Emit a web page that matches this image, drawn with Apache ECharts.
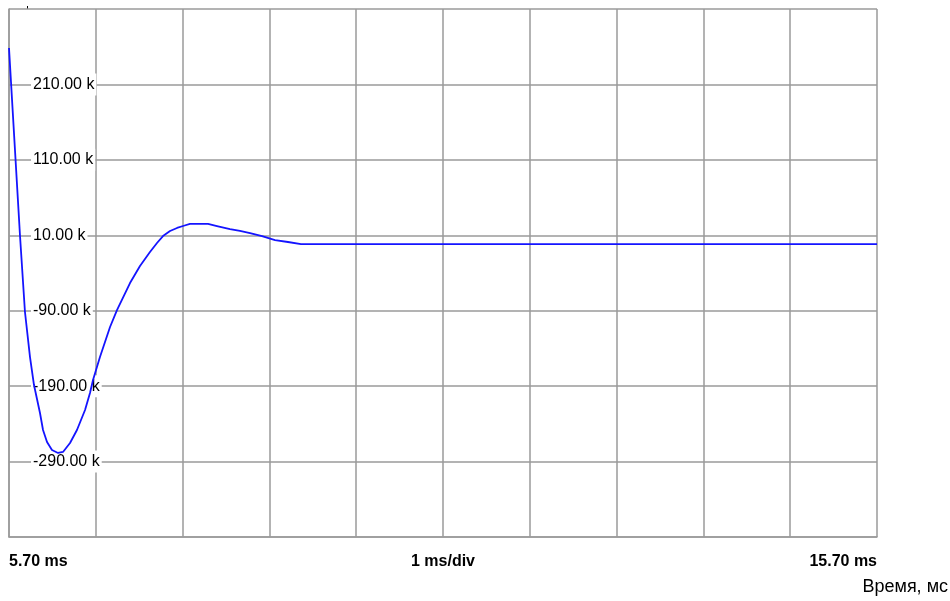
<!DOCTYPE html>
<html>
<head>
<meta charset="utf-8">
<script src="https://cdn.jsdelivr.net/npm/echarts@6/dist/echarts.min.js"></script>
<style>html,body{margin:0;padding:0;background:#fff;}#c{width:950px;height:601px;}</style>
</head>
<body>
<div id="c"></div>
<script>
// time, ms
const timeMs = [5.700, 5.827, 5.884, 5.942, 5.988, 6.057, 6.092, 6.138, 6.195, 6.265, 6.322, 6.403, 6.483, 6.576, 6.633, 6.668, 6.748, 6.864, 6.944, 7.094, 7.209, 7.324, 7.405, 7.474, 7.555, 7.636, 7.705, 7.785, 7.993, 8.096, 8.246, 8.361, 8.477, 8.615, 8.765, 8.914, 9.064, 15.700];
// signal, k
const valueK = [258.3, 9.0, -91.7, -151.4, -188.5, -225.6, -248.1, -264.1, -274.7, -278.6, -277.3, -265.4, -248.1, -221.6, -199.1, -181.9, -151.4, -111.6, -89.1, -53.3, -30.7, -12.2, -0.2, 9.0, 15.7, 19.7, 22.3, 25.0, 25.0, 22.3, 18.3, 15.7, 13.0, 9.0, 3.7, 1.1, -1.6, -1.6];

const xStart = 5.70;      // ms, left edge
const xEnd = 15.70;       // ms, right edge
const xDivLabel = '1 ms/div';
const xName = 'Время, мс';
const yBottom = -390;     // k, bottom edge
const yTop = 310;         // k, top edge
const yStep = 100;

const xSpan = xEnd - xStart;
const ySpan = yTop - yBottom;
const seriesData = timeMs.map((t, i) => [t - xStart, valueK[i] - yBottom]);

const chart = echarts.init(document.getElementById('c'), null, {renderer: 'canvas'});
const gridColor = '#9a9a9a';
const font = 'Arial, "Liberation Sans", sans-serif';
chart.setOption({
  animation: false,
  backgroundColor: '#fff',
  grid: {left: 9, top: 9, right: 73, bottom: 64, containLabel: false},
  xAxis: {
    type: 'value', min: 0, max: xSpan, interval: 1,
    axisLine: {show: true, lineStyle: {color: gridColor, width: 1.5}},
    axisTick: {show: false},
    splitLine: {show: true, lineStyle: {color: gridColor, width: 1.5}},
    axisLabel: {
      margin: 17,
      fontFamily: font, fontSize: 16, fontWeight: 'bold', color: '#000',
      alignMinLabel: 'left', alignMaxLabel: 'right',
      formatter: function (v) {
        if (Math.abs(v) < 1e-9) return xStart.toFixed(2) + ' ms';
        if (Math.abs(v - xSpan / 2) < 1e-9) return xDivLabel;
        if (Math.abs(v - xSpan) < 1e-9) return xEnd.toFixed(2) + ' ms';
        return '';
      }
    }
  },
  yAxis: {
    type: 'value', min: 0, max: ySpan, interval: yStep,
    axisLine: {show: true, lineStyle: {color: gridColor, width: 1.5}},
    axisTick: {show: false},
    splitLine: {show: true, lineStyle: {color: gridColor, width: 1.5}},
    axisLabel: {
      inside: true, margin: 22, align: 'left',
      showMinLabel: false, showMaxLabel: false,
      fontFamily: font, fontSize: 16, color: '#000',
      backgroundColor: '#fff', padding: [3, 2],
      formatter: function (v) { return (v + yBottom).toFixed(2) + ' k'; }
    }
  },
  series: [{
    type: 'line', data: seriesData, showSymbol: false, smooth: false,
    lineStyle: {color: '#1414ff', width: 1.8}, z: 1
  }],
  graphic: [
    {type: 'text', right: 2, top: 578, style: {text: xName, fontFamily: font, fontSize: 18, fill: '#000', letterSpacing: 2}},
    {type: 'rect', left: 27, top: 6, shape: {width: 1, height: 3}, style: {fill: '#000'}}
  ]
});
</script>
</body>
</html>
